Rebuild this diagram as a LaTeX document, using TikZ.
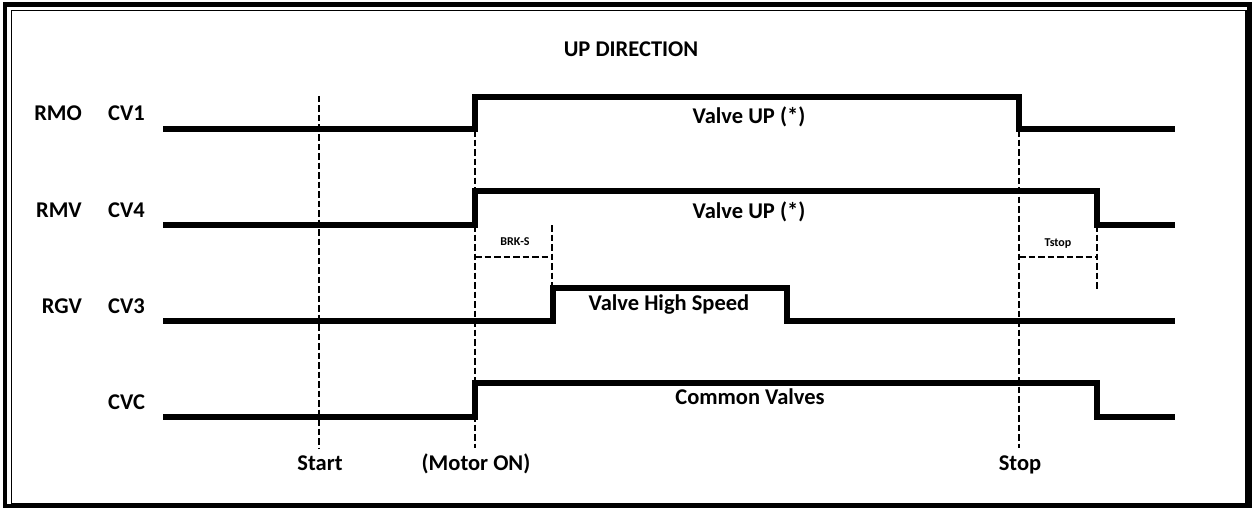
\documentclass[tikz,border=0pt]{standalone}
\usepackage{fontspec}
\setmainfont{Carlito}
\begin{document}
\begin{tikzpicture}[line cap=butt,line join=miter,x=1pt,y=-1pt,
  sig/.style={line width=5.5pt},
  guide/.style={line width=2.8pt,dash pattern=on 6.5pt off 3pt},
  lbl/.style={font=\fontsize{22.5}{26}\selectfont\bfseries,inner sep=0pt},
  tiny/.style={font=\fontsize{12}{14}\selectfont\bfseries,inner sep=0pt}]
  \useasboundingbox (0,0) rectangle (1252,508);
  % frame
  \draw [line width=4.5pt] (5,4.5) rectangle (1249.5,506.5);
  \draw [line width=1.5pt] (11.5,10.5) rectangle (1246,504);
  % title
  \node [lbl,anchor=base] (title) at (631,57) {UP DIRECTION};
  % row names
  \node [lbl,anchor=base east] (rmo) at (82,121) {RMO};
  \node [lbl,anchor=base east] (rmv) at (82,217) {RMV};
  \node [lbl,anchor=base east] (rgv) at (82,313) {RGV};
  \node [lbl,anchor=base west] (cv1) at (108,121) {CV1};
  \node [lbl,anchor=base west] (cv4) at (108,217) {CV4};
  \node [lbl,anchor=base west] (cv3) at (108,313) {CV3};
  \node [lbl,anchor=base west] (cvc) at (108,409) {CVC};
  % signals
  \draw [sig] (163,129) -- (475,129) -- (475,97) -- (1019,97) -- (1019,129) -- (1175,129);
  \draw [sig] (163,225) -- (475,225) -- (475,191) -- (1097,191) -- (1097,225) -- (1175,225);
  \draw [sig] (163,321) -- (553,321) -- (553,288) -- (787,288) -- (787,321) -- (1175,321);
  \draw [sig] (163,417) -- (475,417) -- (475,383) -- (1097,383) -- (1097,417) -- (1175,417);
  \node [lbl,anchor=base] (up1) at (749,124) {Valve UP (*)};
  \node [lbl,anchor=base] (up4) at (749,218) {Valve UP (*)};
  \node [lbl,anchor=base] (hs) at (669,310) {Valve High Speed};
  \node [lbl,anchor=base] (com) at (750,404) {Common Valves};
  % time marks
  \coordinate (start) at (319,96);
  \coordinate (motor) at (475,130);
  \coordinate (stop) at (1019,130);
  \draw [guide] (start) -- (319,448);
  \draw [guide] (motor) -- (475,448);
  \draw [guide] (stop) -- (1019,448);
  \node [lbl,anchor=base] (tstart) at (320,470) {Start};
  \node [lbl,anchor=base] (tmotor) at (476,470) {(Motor ON)};
  \node [lbl,anchor=base] (tstopl) at (1020,470) {Stop};
  % delays
  \draw [guide] (552,225) -- (552,286);
  \draw [guide] (1097,225) -- (1097,290);
  \draw [guide] (475,257) -- (552,257);
  \draw [guide] (1019,257) -- (1097,257);
  \node [tiny,anchor=base] (brk) at (515,245) {BRK-S};
  \node [tiny,anchor=base] (tst) at (1058,246) {Tstop};
\end{tikzpicture}
\end{document}
